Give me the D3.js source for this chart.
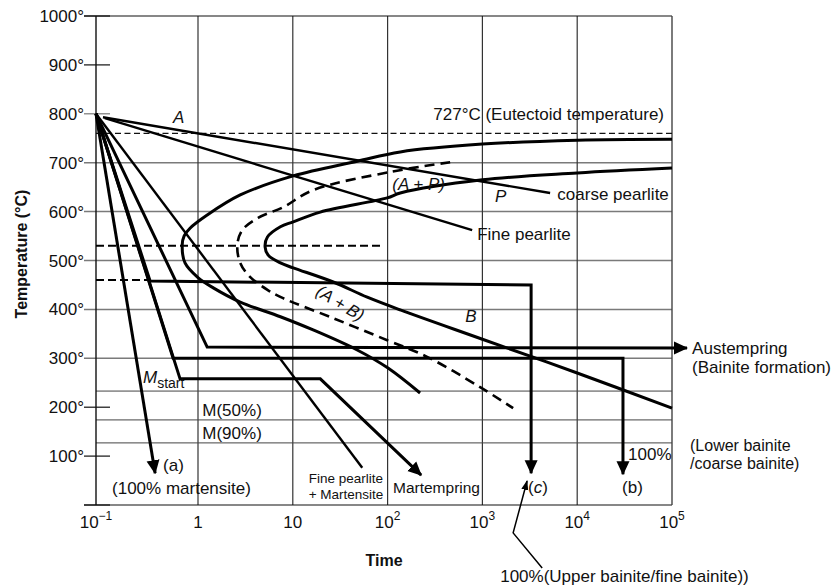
<!DOCTYPE html>
<html>
<head>
<meta charset="utf-8">
<script src="https://cdn.jsdelivr.net/npm/d3@7"></script>
<style>
body{margin:0;background:#fff;}
text{font-family:"Liberation Sans",Arial,Helvetica,sans-serif;fill:#111;}
</style>
</head>
<body>
<script>
// ---- data ----
var yTicks = [100, 200, 300, 400, 500, 600, 700, 800, 900, 1000];
var gridTemps = [300, 400, 500, 600, 700];
var shortTickTemps = [0, 100, 200, 800, 900, 1000];
var xTicks = [0.1, 1, 10, 100, 1000, 1e4, 1e5];
var xTickBase = ["10", "1", "10", "10", "10", "10", "10"];
var xTickExp = ["\u22121", "", "", "2", "3", "4", "5"];
var xGrid = [1, 10, 100, 1000, 1e4];

var mTemps = [233, 174, 127];      // M start, M(50%), M(90%)
var eutectoidTemp = 760;
var noseTemp = 530;
var holdTemp = 460;

// transformation curves (time, temperature)
var startCurve = [[1e5,748],[1e4,746],[1000,738],[136,722],[48,703],[10.1,673],[2.79,634],[1.25,593],
  [0.835,566],[0.73,550],[0.70,532],[0.746,495],[1.0,465],[1.45,444],[2.79,415],[7.4,385],
  [16.4,358],[47.8,317],[101,280],[220,229]];
var halfCurve = [[457,701],[106,681],[16.4,644],[7.9,609],[4.3,587],[2.93,562],[2.6,532],[2.79,495],
  [3.56,466],[5.4,440],[7.9,423],[26.7,382],[99,337],[261,303],[946,241],[2110,198]];
var finishCurve = [[1e5,689],[1e4,679],[1000,665],[136,638],[99,628],[19.5,599],[10.1,579],[7.4,569],
  [5.4,548],[5.1,528],[5.5,511],[7.4,495],[10.1,485],[26.7,456],[61,425],[136,399],
  [1000,339],[1e4,270],[1e5,198]];

// cooling paths (time, temperature)
var coarsePearlite = [[0.117,793],[5180,638]];
var finePearlite = [[0.122,791],[780,562]];
var finePearliteMart = [[0.1,800],[54,76]];
var quenchA = [[0.1,800],[0.38,65]];
var martempring = [[0.1,800],[0.667,258],[19.5,258],[226,61]];
var pathB = [[0.1,800],[0.57,300],[30400,300],[30400,63]];
var pathC = [[0.1,800],[0.339,458],[3265,450],[3265,65]];
var austempring = [[0.1,800],[1.25,323],[1.44e5,321]];
var pointerC = [[4270,-129],[2110,-57],[2960,49]];

// ---- setup ----
var width = 836, height = 588;
var svg = d3.select("body").append("svg")
  .attr("width", width)
  .attr("height", height);

var x = d3.scaleLog().domain([0.1, 1, 1e5]).range([96, 198, 672]);
var y = d3.scaleLinear().domain([0, 1000]).range([505, 16]);

var defs = svg.append("defs");
defs.append("marker").attr("id", "arr")
  .attr("markerUnits", "userSpaceOnUse")
  .attr("viewBox", "0 -7 14 14")
  .attr("refX", 13).attr("refY", 0)
  .attr("markerWidth", 14).attr("markerHeight", 14)
  .attr("orient", "auto")
  .append("path").attr("d", "M0,-6.5L14,0L0,6.5Z").attr("fill", "#000");
defs.append("marker").attr("id", "arrSmall")
  .attr("markerUnits", "userSpaceOnUse")
  .attr("viewBox", "0 -5 10 10")
  .attr("refX", 9).attr("refY", 0)
  .attr("markerWidth", 10).attr("markerHeight", 10)
  .attr("orient", "auto")
  .append("path").attr("d", "M0,-3.5L10,0L0,3.5Z").attr("fill", "#000");

// ---- grid ----
svg.selectAll(".hgrid").data(gridTemps).enter().append("line")
  .attr("x1", 84).attr("x2", x(1e5))
  .attr("y1", function(d){ return y(d); }).attr("y2", function(d){ return y(d); })
  .attr("stroke", "#7a7a7a").attr("stroke-width", 1.5);

svg.selectAll(".stick").data(shortTickTemps).enter().append("line")
  .attr("x1", 84).attr("x2", 110)
  .attr("y1", function(d){ return y(d); }).attr("y2", function(d){ return y(d); })
  .attr("stroke", function(d){ return d == 800 ? "#777" : "#111"; })
  .attr("stroke-width", 1.2);

svg.selectAll(".vgrid").data(xGrid).enter().append("line")
  .attr("x1", function(d){ return x(d); }).attr("x2", function(d){ return x(d); })
  .attr("y1", y(1000)).attr("y2", y(0))
  .attr("stroke", "#333").attr("stroke-width", 1.2);

svg.selectAll(".mline").data(mTemps).enter().append("line")
  .attr("x1", x(0.1)).attr("x2", x(1e5))
  .attr("y1", function(d){ return y(d); }).attr("y2", function(d){ return y(d); })
  .attr("stroke", "#444").attr("stroke-width", 1);

// frame
svg.append("line").attr("x1", 84).attr("x2", x(1e5)).attr("y1", y(1000)).attr("y2", y(1000))
  .attr("stroke", "#111").attr("stroke-width", 1.2);
svg.append("line").attr("x1", 84).attr("x2", x(1e5)).attr("y1", y(0)).attr("y2", y(0))
  .attr("stroke", "#111").attr("stroke-width", 1.2);
svg.append("line").attr("x1", x(0.1)).attr("x2", x(0.1)).attr("y1", y(1000)).attr("y2", y(0))
  .attr("stroke", "#111").attr("stroke-width", 1.4);
svg.append("line").attr("x1", x(1e5)).attr("x2", x(1e5)).attr("y1", y(1000)).attr("y2", y(0))
  .attr("stroke", "#444").attr("stroke-width", 1.4);

// dashed temperature guides
svg.append("line").attr("x1", x(0.1)).attr("x2", x(1e5))
  .attr("y1", y(eutectoidTemp)).attr("y2", y(eutectoidTemp))
  .attr("stroke", "#111").attr("stroke-width", 1.1).attr("stroke-dasharray", "6,3.5");
svg.append("line").attr("x1", x(0.1)).attr("x2", x(90))
  .attr("y1", y(noseTemp)).attr("y2", y(noseTemp))
  .attr("stroke", "#000").attr("stroke-width", 2).attr("stroke-dasharray", "8,4");
svg.append("line").attr("x1", x(0.1)).attr("x2", x(0.339))
  .attr("y1", y(holdTemp)).attr("y2", y(holdTemp))
  .attr("stroke", "#000").attr("stroke-width", 2).attr("stroke-dasharray", "8,4");

// ---- axes labels ----
svg.selectAll(".ylab").data(yTicks).enter().append("text")
  .attr("x", 84).attr("y", function(d){ return y(d) + 6; })
  .attr("text-anchor", "end").attr("font-size", 17)
  .text(function(d){ return d + "\u00b0"; });

var xl = svg.selectAll(".xlab").data(xTicks).enter().append("text")
  .attr("x", function(d){ return x(d); }).attr("y", 528)
  .attr("text-anchor", "middle").attr("font-size", 17);
xl.append("tspan").text(function(d, i){ return xTickBase[i]; });
xl.append("tspan").attr("dy", -8).attr("font-size", 12)
  .text(function(d, i){ return xTickExp[i]; });

svg.append("text").attr("x", 384).attr("y", 566).attr("text-anchor", "middle")
  .attr("font-size", 16).attr("font-weight", "bold").text("Time");
svg.append("text").attr("transform", "translate(27,254) rotate(-90)").attr("text-anchor", "middle")
  .attr("font-size", 16).attr("font-weight", "bold").text("Temperature (\u00b0C)");

// ---- curves ----
var smooth = d3.line()
  .x(function(d){ return x(d[0]); })
  .y(function(d){ return y(d[1]); })
  .curve(d3.curveCatmullRom.alpha(0.5));
var straight = d3.line()
  .x(function(d){ return x(d[0]); })
  .y(function(d){ return y(d[1]); });

svg.append("path").attr("d", smooth(startCurve))
  .attr("fill", "none").attr("stroke", "#000").attr("stroke-width", 3);
svg.append("path").attr("d", smooth(finishCurve))
  .attr("fill", "none").attr("stroke", "#000").attr("stroke-width", 3);
svg.append("path").attr("d", smooth(halfCurve))
  .attr("fill", "none").attr("stroke", "#000").attr("stroke-width", 2.6)
  .attr("stroke-dasharray", "10,6");

// cooling paths
var thin = [coarsePearlite, finePearlite, finePearliteMart];
svg.selectAll(".cool").data(thin).enter().append("path")
  .attr("d", straight)
  .attr("fill", "none").attr("stroke", "#000").attr("stroke-width", 2.4);

var arrows = [quenchA, martempring, pathB, pathC, austempring];
svg.selectAll(".arrowpath").data(arrows).enter().append("path")
  .attr("d", straight)
  .attr("fill", "none").attr("stroke", "#000").attr("stroke-width", 3)
  .attr("stroke-linejoin", "miter")
  .attr("marker-end", "url(#arr)");

svg.append("path").attr("d", straight(pointerC))
  .attr("fill", "none").attr("stroke", "#000").attr("stroke-width", 1.5)
  .attr("marker-end", "url(#arrSmall)");

// ---- annotations ----
function label(t, T, s, opt){
  opt = opt || {};
  var el = svg.append("text").attr("x", x(t)).attr("y", y(T))
    .attr("font-size", opt.size || 17)
    .attr("text-anchor", opt.anchor || "start")
    .text(s);
  if (opt.italic) el.attr("font-style", "italic");
  return el;
}
label(82400, 787, "727\u00b0C (Eutectoid temperature)", {anchor: "end"});
label(0.57, 781, "A", {italic: true});
label(112, 644, "(A + P)", {italic: true});
label(1360, 620, "P", {italic: true});
label(6170, 624, "coarse pearlite");
label(881, 542, "Fine pearlite");
label(658, 374, "B", {italic: true});
svg.append("text")
  .attr("transform", "translate(" + x(31.8) + "," + y(413) + ") rotate(31)")
  .attr("text-anchor", "middle").attr("font-size", 17).attr("font-style", "italic")
  .attr("dy", 6).text("(A + B)");

var ms = label(0.289, 249, "M", {italic: true});
ms.text(null);
ms.append("tspan").attr("font-style", "italic").text("M");
ms.append("tspan").attr("font-style", "normal").attr("font-size", 14).attr("dy", 5).text("start");

label(1.11, 182, "M(50%)");
label(1.11, 135, "M(90%)");
label(0.454, 70, "(a)");
label(0.1436, 22, "(100% martensite)");
label(14.7, 45, "Fine pearlite", {size: 13.5});
label(14.7, 13, "+ Martensite", {size: 13.5});
label(114, 25, "Martempring", {size: 15.5});
var lc = label(3030, 25, "(");
lc.append("tspan").attr("font-style", "italic").text("c");
lc.append("tspan").text(")");
label(29700, 25, "(b)");
label(34400, 92, "100%");
label(1.63e5, 309, "Austempring");
label(1.63e5, 270, "(Bainite formation)");
label(1.55e5, 110, "(Lower bainite", {size: 16});
label(1.55e5, 74, "/coarse bainite)", {size: 16});
label(1540, -157, "100%(Upper bainite/fine bainite))");
</script>
</body>
</html>
